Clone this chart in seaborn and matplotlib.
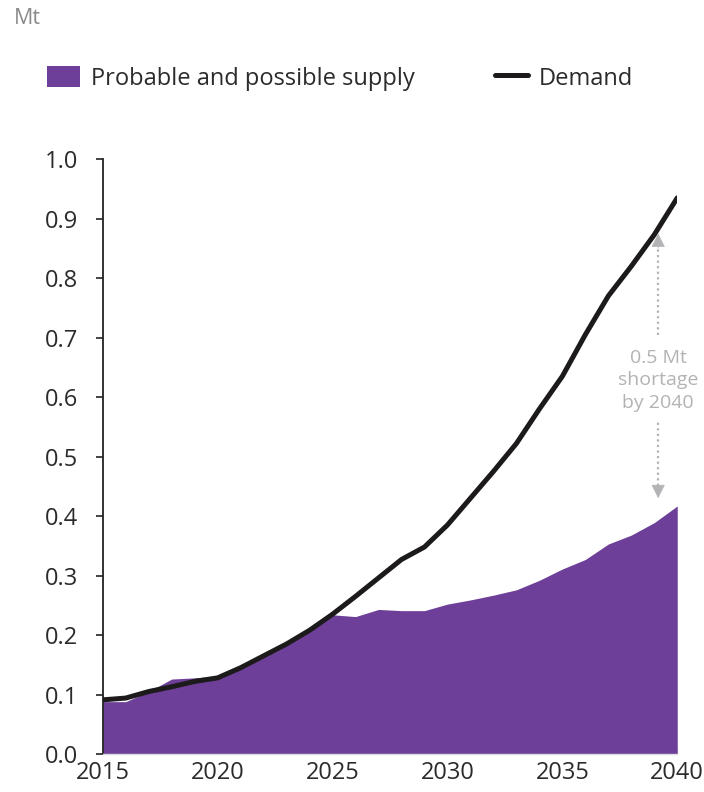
import numpy as np
import pandas as pd
import matplotlib
matplotlib.use("Agg")
import matplotlib.pyplot as plt
from matplotlib.patches import Patch
from matplotlib.lines import Line2D
import seaborn as sns

years = list(range(2015, 2041))
demand = [0.091, 0.094, 0.105, 0.113, 0.122, 0.128, 0.145, 0.165, 0.185, 0.208,
          0.235, 0.265, 0.296, 0.327, 0.348, 0.385, 0.430, 0.475, 0.522, 0.580,
          0.635, 0.705, 0.770, 0.820, 0.873, 0.935]
supply = [0.088, 0.088, 0.105, 0.126, 0.128, 0.131, 0.143, 0.163, 0.183, 0.206,
          0.234, 0.231, 0.243, 0.241, 0.241, 0.252, 0.259, 0.267, 0.276, 0.292,
          0.311, 0.327, 0.353, 0.368, 0.389, 0.417]
x_ticks = [2015, 2020, 2025, 2030, 2035, 2040]
y_ticks = [0.0, 0.1, 0.2, 0.3, 0.4, 0.5, 0.6, 0.7, 0.8, 0.9, 1.0]
legend_labels = ["Probable and possible supply", "Demand"]
unit_label = "Mt"
annot_text = "0.5 Mt\nshortage\nby 2040"

df = pd.DataFrame({"year": years, "demand": demand, "supply": supply})

sns.set_theme(style="white")
plt.rcParams["font.family"] = ["Open Sans", "DejaVu Sans"]

PURPLE = "#6E3F98"
GREY = "#B3B3B6"
TXT = "#2b2b2b"
FS = 17

fig = plt.figure(figsize=(7.04, 7.92), dpi=100)
ax = fig.add_axes([0.146, 0.048, 0.816, 0.751])

ax.fill_between(df["year"], 0, df["supply"], color=PURPLE, linewidth=0, zorder=1)
sns.lineplot(data=df, x="year", y="demand", ax=ax, color="#1c1a1b", linewidth=3.6,
             zorder=3, legend=False)

ax.set_xlim(2015, 2040)
ax.set_ylim(0, 1.0)
ax.set_xticks(x_ticks)
ax.set_xticklabels([str(v) for v in x_ticks])
ax.set_yticks(y_ticks)
ax.set_yticklabels([f"{v:.1f}" for v in y_ticks])
ax.set_xlabel("")
ax.set_ylabel("")

for s in ["top", "right"]:
    ax.spines[s].set_visible(False)
ax.spines["left"].set_color("#222222")
ax.spines["left"].set_linewidth(1.3)
ax.spines["bottom"].set_color("#dddddd")
ax.spines["bottom"].set_linewidth(1.0)

ax.tick_params(axis="y", which="major", direction="out", length=5, width=1.2,
               color="#222222", labelsize=FS, labelcolor=TXT, pad=13, left=True)
ax.tick_params(axis="x", which="major", direction="in", length=5, width=1.0,
               color="#e6e6e6", labelsize=FS, labelcolor=TXT, pad=5, bottom=True)

# annotation
AX_X = 2039.17
ax.text(AX_X, 0.628, annot_text, ha="center", va="center", fontsize=14,
        color=GREY, linespacing=1.3)
ax.plot([AX_X, AX_X], [0.704, 0.855], color=GREY, lw=1.6, linestyle=(0, (1, 1.5)))
ax.plot([AX_X, AX_X], [0.450, 0.561], color=GREY, lw=1.6, linestyle=(0, (1, 1.5)))
ax.annotate("", xy=(AX_X, 0.875), xytext=(AX_X, 0.850),
            arrowprops=dict(arrowstyle="-|>", color=GREY, lw=0.5,
                            mutation_scale=22, shrinkA=0, shrinkB=0))
ax.annotate("", xy=(AX_X, 0.430), xytext=(AX_X, 0.455),
            arrowprops=dict(arrowstyle="-|>", color=GREY, lw=0.5,
                            mutation_scale=22, shrinkA=0, shrinkB=0))

fig.text(0.019, 0.977, unit_label, fontsize=15.5, color="#8a8a8a", ha="left", va="center")

handles = [Patch(facecolor=PURPLE, edgecolor="none"),
           Line2D([0], [0], color="#1c1a1b", lw=3.6)]
fig.legend(handles, legend_labels, loc="center left", bbox_to_anchor=(0.067, 0.9015),
           frameon=False, fontsize=FS, ncol=2, handlelength=1.4, handleheight=1.05,
           handletextpad=0.45, columnspacing=3.4, borderpad=0, borderaxespad=0,
           labelcolor=TXT)

fig.savefig("out.png", dpi=100)
